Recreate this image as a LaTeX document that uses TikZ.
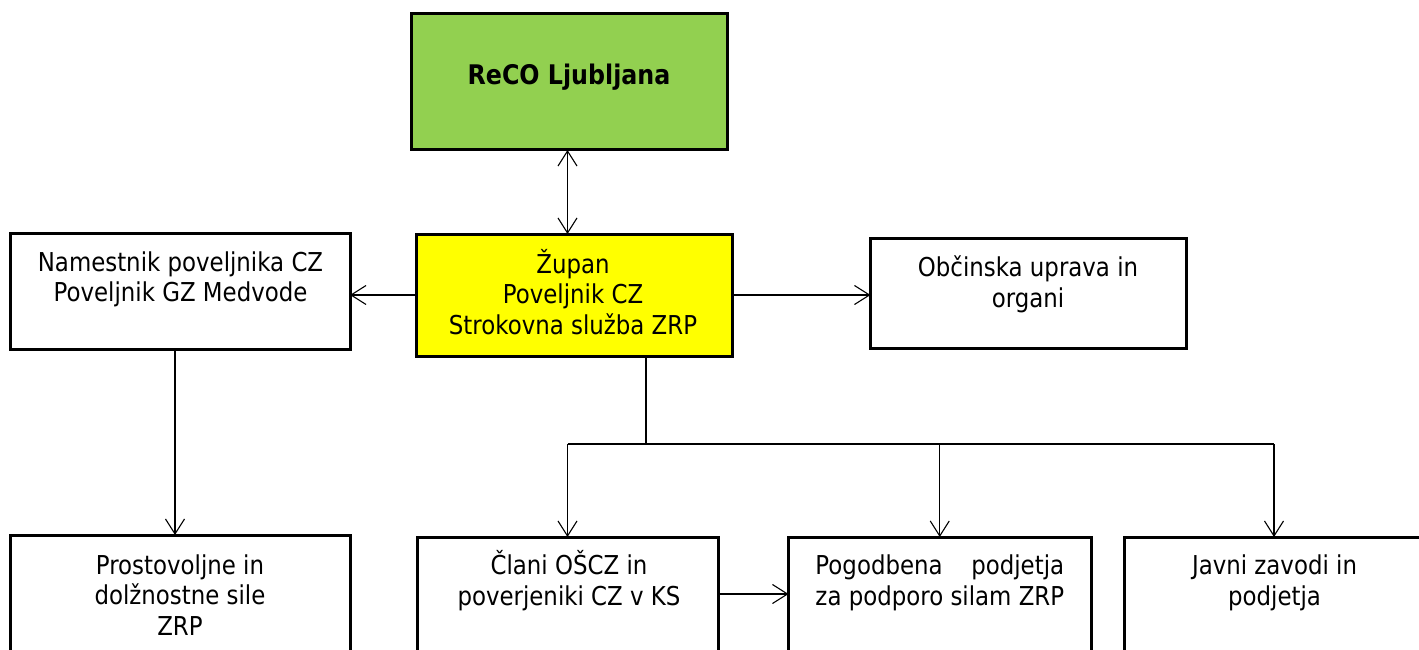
\documentclass[tikz,border=0pt]{standalone}
\usepackage{fontspec}
\setmainfont{DejaVu Sans}[FakeStretch=0.88]
\usetikzlibrary{arrows.meta}
\definecolor{recogreen}{HTML}{92D050}
\definecolor{zupanyellow}{HTML}{FFFF00}
\begin{document}
\begin{tikzpicture}[x=1pt,y=-1pt,
  box/.style={draw=black,line width=3pt,inner sep=0pt,outer sep=0pt},
  lbl/.style={font=\fontsize{26}{30.5}\selectfont,align=center,anchor=base,inner sep=0pt},
  conn/.style={line width=1.1pt,draw=black},
  arr/.style={conn,-{Straight Barb[length=15pt,width=19pt]}},
  darr/.style={conn,{Straight Barb[length=15pt,width=19pt]}-{Straight Barb[length=15pt,width=19pt]}}]
\useasboundingbox (0,0) rectangle (1419,650);
\clip (0,0) rectangle (1419,650);
% boxes
\node[box,fill=recogreen,minimum width=315.5pt,minimum height=136pt] (reco) at (569.25,82) {};
\node[box,fill=zupanyellow,minimum width=315.5pt,minimum height=122pt] (zupan) at (574.25,295) {};
\node[box,fill=white,minimum width=340pt,minimum height=116pt] (nam) at (180,291) {};
\node[box,fill=white,minimum width=315.5pt,minimum height=110pt] (obc) at (1028.25,293) {};
\node[box,fill=white,minimum width=340pt,minimum height=165pt] (pro) at (180,617.5) {};
\node[box,fill=white,minimum width=301pt,minimum height=163pt] (cla) at (567.5,618.5) {};
\node[box,fill=white,minimum width=302.5pt,minimum height=163pt] (pog) at (939.75,618.5) {};
\node[box,fill=white,minimum width=300pt,minimum height=163pt] (jav) at (1274,618.5) {};
% texts (anchor base = baseline of the last line)
\node[lbl,font=\fontsize{27}{30.5}\selectfont\bfseries] (recot) at (569,85) {ReCO Ljubljana};
\node[lbl] (zupant) at (573,334.3) {Župan\\Poveljnik CZ\\Strokovna služba ZRP};
\node[lbl] (namt) at (180.5,301.5) {Namestnik poveljnika CZ\\Poveljnik GZ Medvode};
\node[lbl] (obct) at (1028,307) {Občinska uprava in\\organi};
\node[lbl] (prot) at (180,635) {Prostovoljne in\\dolžnostne sile\\ZRP};
\node[lbl] (clat) at (569,605) {Člani OŠCZ in\\poverjeniki CZ v KS};
\node[lbl] (pogt) at (939.8,605) {\setbox0\hbox{za podporo silam ZRP}\hbox to \wd0{Pogodbena\hfil podjetja}\\za podporo silam ZRP};
\node[lbl] (javt) at (1274.5,605) {Javni zavodi in\\podjetja};
% connectors
\coordinate (split) at (646,444);
\draw[darr] (reco.south -| cla.north) -- (zupan.north -| cla.north);
\draw[arr] (zupan.west) -- (zupan.west -| nam.east);
\draw[arr] (zupan.east) -- (zupan.east -| obc.west);
\draw[arr] ([xshift=-5pt]nam.south) -- ([xshift=-5pt]pro.north);
\draw[conn] (zupan.south -| split) -- (split);
\draw[conn] (cla.north |- split) -- (jav.north |- split);
\draw[arr] (cla.north |- split) -- (cla.north);
\draw[arr] (pog.north |- split) -- (pog.north);
\draw[arr] (jav.north |- split) -- (jav.north);
\draw[arr] ([yshift=24.5pt]cla.east) -- ([yshift=24.5pt]pog.west);
\end{tikzpicture}
\end{document}
